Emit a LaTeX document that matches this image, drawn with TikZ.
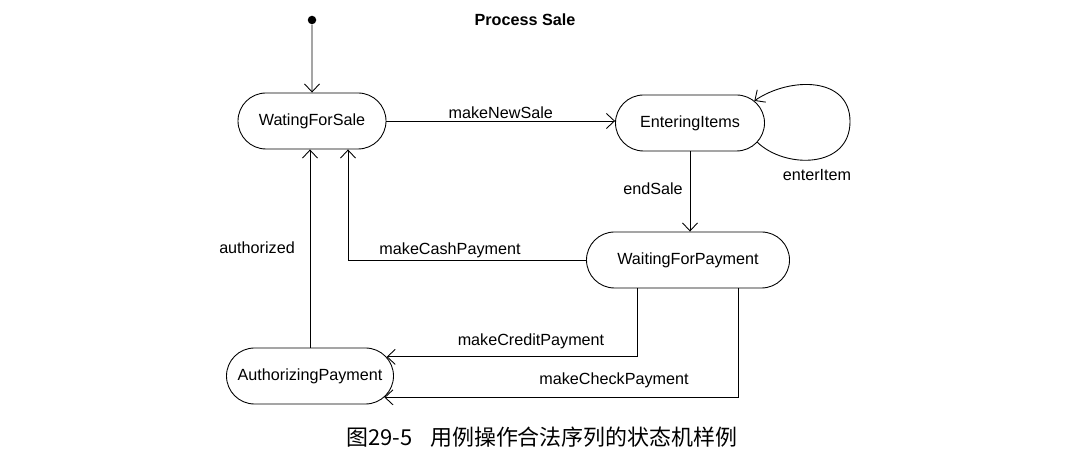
\documentclass[tikz,border=0pt]{standalone}
\usepackage{fontspec}
\setmainfont{Liberation Sans}
\newfontfamily\cjk{Noto Sans CJK SC}
\usetikzlibrary{shapes.misc,arrows.meta}

\begin{document}
\begin{tikzpicture}[>={Straight Barb[length=1.6mm,width=3mm]}, line width=0.5pt,
        every node/.style={font=\fontsize{9.2}{11}\selectfont},
        stbox/.style={draw, rounded rectangle, minimum height=1.12cm, inner sep=0pt}]
            \useasboundingbox (0,0) rectangle (21.4,9.28);
            \node[circle, fill, inner sep=0pt, minimum size=0.17cm] (start) at (6.24,8.88) {};
            \node[font=\bfseries\fontsize{9.2}{11}\selectfont] (title) at (10.5,8.88) {Process Sale};
            \node[stbox, minimum width=2.96cm] (wfs) at (6.24,6.86) {WatingForSale};
            \node[stbox, minimum width=2.98cm] (ei) at (13.8,6.82) {EnteringItems};
            \node[stbox, minimum width=4.06cm] (wfp) at (13.76,4.08) {WaitingForPayment};
            \node[stbox, minimum width=3.34cm] (ap) at (6.2,1.76) {AuthorizingPayment};
            \draw[->] (start) -- (wfs);
            \draw[->] (wfs.east) -- (wfs.east -| ei.west) node[midway, above=-2pt] (newsale) {makeNewSale};
            \draw[->] (ei.-16) .. controls (15.7,5.9) and (17,5.9) .. (17,6.85) .. controls (17,7.75) and (15.8,7.75) .. (ei.19);
            \node (enteritem) at (16.34,5.78) {enterItem};
            \draw[->] (ei.south) -- (ei.south |- wfp.north);
            \node (endsale) at (13.06,5.5) {endSale};
            \draw[->] (wfp.west) -| ([xshift=0.72cm]wfs.south);
            \node (cash) at (9,4.28) {makeCashPayment};
            \draw[->] (ap.north) -- (ap.north |- wfs.south);
            \node (authorized) at (5.14,4.32) {authorized};
            \draw[->] ([xshift=-1.02cm]wfp.south) |- (ap.14);
            \node (credit) at (10.62,2.46) {makeCreditPayment};
            \draw[->] ([xshift=1cm]wfp.south) |- (ap.-16);
            \node (check) at (12.28,1.68) {makeCheckPayment};
            \node[font=\cjk\fontsize{12.5}{14}\selectfont] (caption) at (10.84,0.54) {图29-5\hspace{0.8em}用例操作合法序列的状态机样例};
\end{tikzpicture}
\end{document}
